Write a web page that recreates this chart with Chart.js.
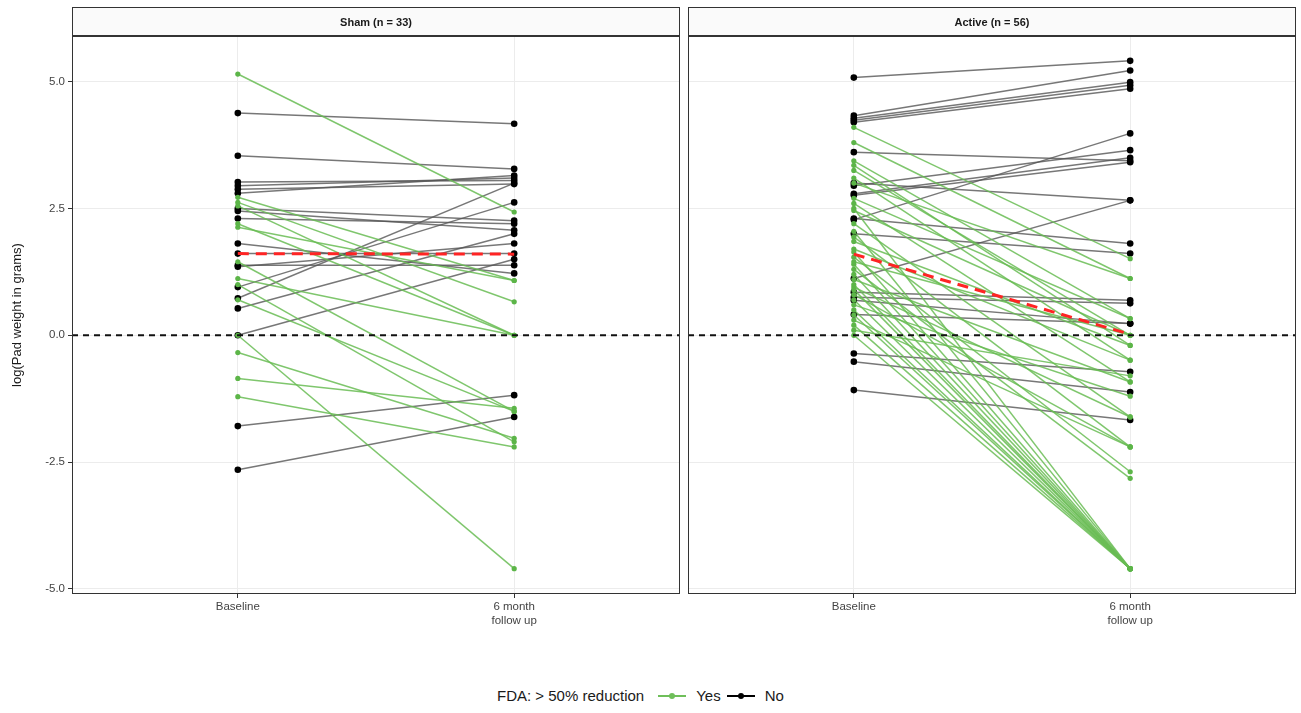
<!DOCTYPE html>
<html>
<head>
<meta charset="utf-8">
<script src="https://cdn.jsdelivr.net/npm/chart.js@4.4.1/dist/chart.umd.min.js"></script>
<style>
  body { margin:0; background:#fff; width:1301px; height:713px; position:relative; overflow:hidden;
         font-family:"Liberation Sans", Arial, sans-serif; }
  #wrapSham { position:absolute; left:0; top:0; width:684px; height:640px; }
  #wrapActive { position:absolute; left:684px; top:0; width:617px; height:640px; }
  .legend { position:absolute; top:687px; left:497px; font-size:15px; color:#1a1a1a;
            display:flex; align-items:center; white-space:nowrap; }
  .key { position:relative; display:inline-block; width:28px; height:14px; margin:0 10px 0 10px; }
  .key::before { content:""; position:absolute; left:0; right:0; top:6px; height:2px; background:var(--c); }
  .key::after { content:""; position:absolute; left:11px; top:4px; width:6px; height:6px; border-radius:50%; background:var(--c); }
</style>
</head>
<body>
<div id="wrapSham"><canvas id="shamChart"></canvas></div>
<div id="wrapActive"><canvas id="activeChart"></canvas></div>
<div class="legend">
  <span>FDA: &gt; 50% reduction</span>
  <span class="key" style="--c:#6fbf5a;margin-left:14px"></span><span>Yes</span>
  <span class="key" style="--c:#000;margin-left:6px"></span><span>No</span>
</div>

<script>
/* ========= Data ========= */
const timepoints = ["Baseline", ["6 month", "follow up"]];
const yTicks = [-5, -2.5, 0, 2.5, 5];

// Sham (n = 33): log pad weight at baseline and 6 months, 1 = >50% reduction
const shamBaseline = [4.38, 3.54, 3.02, 2.95, 2.88, 2.80, 2.50, 2.45, 2.30, 1.81, 1.61, 1.38, 1.35, 0.95, 0.73, 0.53, 0.00, -1.79, -2.65,
                      5.15, 2.72, 2.62, 2.20, 2.13, 2.55, 1.12, 0.00, -0.34, -0.85, -1.21, 1.45, 0.70, 1.00];
const shamFollowup = [4.17, 3.28, 3.05, 3.10, 2.98, 3.15, 2.26, 2.07, 2.20, 1.22, 1.61, 1.38, 1.81, 2.62, 3.00, 2.00, 1.50, -1.18, -1.61,
                      2.43, 1.08, 0.66, 0.00, 1.08, 0.00, 0.00, -4.60, -2.03, -1.44, -2.20, -1.50, -1.50, -2.10];
const shamReduced  = [0,0,0,0,0,0,0,0,0,0,0,0,0,0,0,0,0,0,0, 1,1,1,1,1,1,1,1,1,1,1,1,1,1];
const shamMean = [1.61, 1.60];

// Active (n = 56)
const activeBaseline = [5.08, 4.33, 4.28, 4.24, 4.20, 3.61, 2.95, 2.79, 2.28, 2.76, 3.00, 1.12, 2.30, 2.00, 0.85, 0.75, 0.69, 0.41, -0.36, -0.52, -1.08,
                        4.10, 3.80, 3.44, 3.35, 3.25, 3.10, 2.60, 2.50, 2.46, 2.20, 2.05, 1.94, 1.85, 1.64, 1.54, 1.45, 1.40, 1.30, 1.20, 1.10,
                        1.00, 0.95, 0.90, 0.80, 0.70, 0.60, 0.50, 0.40, 0.30, 0.20, 0.10, 0.00, 2.70, 3.00, 1.70];
const activeFollowup = [5.41, 5.22, 4.99, 4.93, 4.86, 3.44, 3.65, 3.50, 3.98, 3.41, 2.66, 2.66, 1.81, 1.61, 0.69, 0.63, 0.23, 0.23, -0.72, -1.12, -1.67,
                        1.51, 1.12, 0.33, -0.20, 0.00, -0.49, -0.92, -4.60, 0.00, -1.61, -4.60, -2.20, -0.20, -4.60, -2.69, 0.00, -4.60, -2.82, -4.60, -0.92,
                        -4.60, -1.61, -4.60, -2.20, -4.60, -1.20, -4.60, -4.60, -2.20, -4.60, -0.80, -4.60, 0.33, 1.12, -0.49];
const activeReduced  = [0,0,0,0,0,0,0,0,0,0,0,0,0,0,0,0,0,0,0,0,0,
                        1,1,1,1,1,1,1,1,1,1,1,1,1,1,1,1,1,1,1,1,1,1,1,1,1,1,1,1,1,1,1,1,1,1,1];
const activeMean = [1.60, 0.02];

/* ========= Styling ========= */
const X_MIN = 0.4, X_MAX = 2.6;
const Y_MIN = -5.1, Y_MAX = 5.9;
const GREEN_LINE = "rgba(104,188,84,0.85)";
const GREEN_PT = "#5cb548";
const GRAY_LINE = "rgba(85,85,85,0.8)";
const FONT = '"Liberation Sans", Arial, sans-serif';

/* strip header + panel border */
const panelFrame = {
  id: "panelFrame",
  afterDraw(chart, args, opts) {
    const { ctx, chartArea: a } = chart;
    ctx.save();
    ctx.fillStyle = "#fafafa";
    ctx.fillRect(a.left, 7, a.right - a.left, a.top - 7);
    ctx.strokeStyle = "#333";
    ctx.lineWidth = 1;
    ctx.strokeRect(a.left + 0.5, 7.5, a.right - a.left - 1, a.top - 8);
    ctx.strokeRect(a.left + 0.5, a.top + 0.5, a.right - a.left - 1, a.bottom - a.top - 1);
    ctx.fillStyle = "#1a1a1a";
    ctx.font = "bold 11px " + FONT;
    ctx.textAlign = "center";
    ctx.textBaseline = "middle";
    ctx.fillText(opts.label, (a.left + a.right) / 2, (7 + a.top) / 2 + 1);
    ctx.restore();
  }
};

function makeDatasets(base, follow, reduced, mean) {
  const ds = [];
  // index 0 is drawn on top
  ds.push({ data: [{ x: 1, y: mean[0] }, { x: 2, y: mean[1] }], borderColor: "#ff2424",
            borderDash: [11, 7], borderWidth: 3, pointRadius: 0 });
  ds.push({ data: [{ x: X_MIN, y: 0 }, { x: X_MAX, y: 0 }], borderColor: "#111",
            borderDash: [6, 5], borderWidth: 2, pointRadius: 0 });
  // green lines above gray ones
  [1, 0].forEach(flag => {
    base.forEach((b, i) => {
      if (reduced[i] !== flag) return;
      const yes = flag === 1;
      ds.push({
        data: [{ x: 1, y: b }, { x: 2, y: follow[i] }],
        borderColor: yes ? GREEN_LINE : GRAY_LINE,
        borderWidth: 1.5,
        pointRadius: yes ? 2.6 : 3.3,
        pointBackgroundColor: yes ? GREEN_PT : "#000",
        pointBorderWidth: 0
      });
    });
  });
  return ds;
}

function makePanel(id, label, base, follow, reduced, mean, showY) {
  return new Chart(document.getElementById(id), {
    type: "line",
    data: { datasets: makeDatasets(base, follow, reduced, mean) },
    plugins: [panelFrame],
    options: {
      responsive: true,
      maintainAspectRatio: false,
      animation: false,
      layout: { padding: { top: 36, left: 0, right: showY ? 4 : 5, bottom: 0 } },
      plugins: { legend: { display: false }, tooltip: { enabled: false }, panelFrame: { label } },
      scales: {
        x: {
          type: "linear", min: X_MIN, max: X_MAX,
          afterBuildTicks: s => { s.ticks = [{ value: 1 }, { value: 2 }]; },
          afterFit: s => { s.height = 46; },
          border: { display: false },
          grid: { color: "#ececec", tickColor: "#333", tickLength: 4, lineWidth: 1 },
          ticks: { padding: 2, color: "#444", font: { family: FONT, size: 11.5 },
                   callback: v => timepoints[v - 1] }
        },
        y: {
          type: "linear", min: Y_MIN, max: Y_MAX,
          afterBuildTicks: s => { s.ticks = yTicks.map(v => ({ value: v })); },
          afterFit: s => { s.width = showY ? 72 : 4; },
          border: { display: false },
          grid: { color: "#ececec", tickColor: "#333", tickLength: 4, drawTicks: showY },
          ticks: { display: showY, padding: 3, color: "#444", font: { family: FONT, size: 11.5 },
                   callback: v => v.toFixed(1) },
          title: { display: showY, text: "log(Pad weight in grams)", color: "#1a1a1a",
                   font: { family: FONT, size: 13 }, padding: { top: 10, bottom: 0 } }
        }
      }
    }
  });
}

/* ========= Init ========= */
makePanel("shamChart", "Sham (n = 33)", shamBaseline, shamFollowup, shamReduced, shamMean, true);
makePanel("activeChart", "Active (n = 56)", activeBaseline, activeFollowup, activeReduced, activeMean, false);
</script>
</body>
</html>
